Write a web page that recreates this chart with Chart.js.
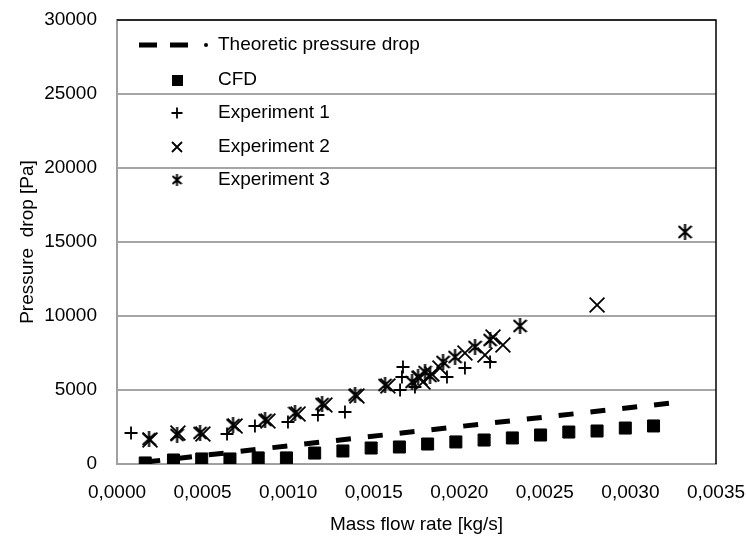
<!DOCTYPE html>
<html>
<head>
<meta charset="utf-8">
<script src="https://cdn.jsdelivr.net/npm/chart.js@4.4.0/dist/chart.umd.min.js"></script>
<style>
  html, body { margin: 0; padding: 0; background: #ffffff; }
  #wrap { width: 746px; height: 537px; }
</style>
</head>
<body>
<div id="wrap"><canvas id="myChart" width="746" height="537"></canvas></div>
<script>
// values
const seriesNames = ["Theoretic pressure drop", "CFD", "Experiment 1", "Experiment 2", "Experiment 3"];

const theoX = [0.000165, 0.00165, 0.0033];
const theoY = [130, 2080, 4200];

const cfdX = [0.000165, 0.00033, 0.000495, 0.00066, 0.000825, 0.00099, 0.001155, 0.00132, 0.001485, 0.00165,
              0.001815, 0.00198, 0.002145, 0.00231, 0.002475, 0.00264, 0.002805, 0.00297, 0.003135];
const cfdY = [70, 270, 340, 340, 410, 410, 740, 880, 1080, 1150, 1350, 1490, 1620, 1760, 1960, 2160, 2230, 2430, 2570];

const exp1X = [0.000082, 0.000643, 0.000806, 0.000999, 0.001174, 0.001332, 0.001654, 0.001665, 0.001671, 0.001741,
               0.001928, 0.002033, 0.00218];
const exp1Y = [2095, 2027, 2568, 2838, 3311, 3514, 5000, 5879, 6554, 5203, 5879, 6487, 6892];

const exp2X = [0.000193, 0.000356, 0.000502, 0.00069, 0.000882, 0.001058, 0.001215, 0.001402, 0.001583, 0.00177,
               0.001788, 0.00184, 0.001887, 0.002033, 0.00215, 0.002197, 0.002255, 0.002805];
const exp2Y = [1622, 2095, 2027, 2568, 2906, 3379, 3987, 4595, 5271, 5811, 5541, 6081, 6487, 7500, 7365, 8581, 8041, 10744];

const exp3X = [0.000187, 0.000351, 0.000485, 0.000678, 0.000865, 0.00104, 0.001198, 0.001391, 0.001566, 0.001724,
               0.001759, 0.0018, 0.001829, 0.001905, 0.001975, 0.002092, 0.00218, 0.002355, 0.003319];
const exp3Y = [1689, 1960, 2095, 2635, 2973, 3446, 4054, 4662, 5338, 5541, 5879, 6216, 5946, 6892, 7230, 7906, 8379, 9325, 15676];

const xTicks = [0, 0.0005, 0.001, 0.0015, 0.002, 0.0025, 0.003, 0.0035];
const yTicks = [0, 5000, 10000, 15000, 20000, 25000, 30000];

function toPoints(xs, ys) {
    return xs.map((x, i) => ({ x: x, y: ys[i] }));
}

// asterisk marker (x with a vertical bar) for experiment 3
function makeAsterisk(w, h, lw) {
    const c = document.createElement('canvas');
    c.width = w; c.height = h;
    const g = c.getContext('2d');
    g.strokeStyle = '#000';
    g.lineWidth = lw;
    g.beginPath();
    g.moveTo(1, 2); g.lineTo(w - 1, h - 2);
    g.moveTo(w - 1, 2); g.lineTo(1, h - 2);
    g.moveTo(w / 2, 0); g.lineTo(w / 2, h);
    g.stroke();
    return c;
}
const starBig = makeAsterisk(15, 16, 2.2);
const starSmall = makeAsterisk(11, 12, 2);

const FONT = "'Liberation Sans', Arial, sans-serif";
Chart.defaults.color = "#000000";
Chart.defaults.font.family = FONT;
Chart.defaults.font.size = 19;
Chart.defaults.font.lineHeight = 1.2;

// legend drawn inside the plot, like the Excel one
const insideLegend = {
    id: 'insideLegend',
    afterDraw(chart) {
        const ctx = chart.ctx;
        const rows = [45, 80, 113, 147, 180];
        const symX = 177, textX = 218;
        ctx.save();
        ctx.fillStyle = '#000';
        ctx.strokeStyle = '#000';
        // dashed line sample
        ctx.lineWidth = 5;
        ctx.beginPath();
        ctx.moveTo(139, rows[0]); ctx.lineTo(157, rows[0]);
        ctx.moveTo(170, rows[0]); ctx.lineTo(188, rows[0]);
        ctx.stroke();
        ctx.beginPath();
        ctx.arc(206, rows[0], 2, 0, Math.PI * 2);
        ctx.fill();
        // square
        ctx.fillRect(symX - 5, rows[1] - 5, 11, 11);
        // plus
        ctx.lineWidth = 1.8;
        ctx.beginPath();
        ctx.moveTo(symX - 5.5, rows[2]); ctx.lineTo(symX + 5.5, rows[2]);
        ctx.moveTo(symX, rows[2] - 5.5); ctx.lineTo(symX, rows[2] + 5.5);
        ctx.stroke();
        // cross
        ctx.beginPath();
        ctx.moveTo(symX - 5, rows[3] - 5); ctx.lineTo(symX + 5, rows[3] + 5);
        ctx.moveTo(symX + 5, rows[3] - 5); ctx.lineTo(symX - 5, rows[3] + 5);
        ctx.stroke();
        // asterisk
        ctx.drawImage(starSmall, symX - starSmall.width / 2, rows[4] - starSmall.height / 2);

        ctx.font = "19px " + FONT;
        ctx.textBaseline = 'middle';
        ctx.textAlign = 'left';
        for (let i = 0; i < seriesNames.length; i++) {
            ctx.fillText(seriesNames[i], textX, rows[i]);
        }
        ctx.restore();
    }
};

// black top and right edge of the plot area
const plotFrame = {
    id: 'plotFrame',
    afterDraw(chart) {
        const a = chart.chartArea;
        const ctx = chart.ctx;
        ctx.save();
        ctx.strokeStyle = '#000';
        ctx.lineWidth = 1.5;
        ctx.beginPath();
        ctx.moveTo(a.left, a.top);
        ctx.lineTo(a.right, a.top);
        ctx.lineTo(a.right, a.bottom);
        ctx.stroke();
        ctx.restore();
    }
};

window.addEventListener('load', function () {
    const ctx = document.getElementById('myChart').getContext('2d');
    new Chart(ctx, {
        type: 'scatter',
        data: {
            datasets: [
                {
                    label: seriesNames[0],
                    data: toPoints(theoX, theoY),
                    showLine: true,
                    borderColor: '#000',
                    borderWidth: 5,
                    borderDash: [15, 17],
                    pointRadius: 0,
                    fill: false
                },
                {
                    label: seriesNames[1],
                    data: toPoints(cfdX, cfdY),
                    pointStyle: 'rect',
                    pointRadius: 8.5,
                    backgroundColor: '#000',
                    borderColor: '#000',
                    borderWidth: 1
                },
                {
                    label: seriesNames[2],
                    data: toPoints(exp1X, exp1Y),
                    pointStyle: 'cross',
                    pointRadius: 6.5,
                    borderColor: '#000',
                    borderWidth: 1.8
                },
                {
                    label: seriesNames[3],
                    data: toPoints(exp2X, exp2Y),
                    pointStyle: 'crossRot',
                    pointRadius: 10.5,
                    borderColor: '#000',
                    borderWidth: 1.8
                },
                {
                    label: seriesNames[4],
                    data: toPoints(exp3X, exp3Y),
                    pointStyle: starBig,
                    pointRadius: 8,
                    borderColor: '#000'
                }
            ]
        },
        options: {
            responsive: false,
            animation: false,
            layout: { padding: { left: 0, right: 30, top: 20, bottom: 0 } },
            plugins: {
                legend: { display: false },
                tooltip: { enabled: false }
            },
            scales: {
                x: {
                    type: 'linear',
                    min: 0,
                    max: 0.0035,
                    afterBuildTicks: (scale) => { scale.ticks = xTicks.map(v => ({ value: v })); },
                    afterFit: (scale) => {
                        scale.height = 73;
                        scale.paddingLeft = 0;
                        scale.paddingRight = 0;
                    },
                    ticks: {
                        padding: 17,
                        maxRotation: 0,
                        callback: (v) => Number(v).toFixed(4).replace('.', ',')
                    },
                    grid: { drawOnChartArea: false, drawTicks: false },
                    border: { display: true, color: '#a0a0a0', width: 2 },
                    title: {
                        display: true,
                        text: 'Mass flow rate [kg/s]',
                        padding: { top: 0, bottom: 1 }
                    }
                },
                y: {
                    type: 'linear',
                    min: 0,
                    max: 30000,
                    afterBuildTicks: (scale) => { scale.ticks = yTicks.map(v => ({ value: v })); },
                    afterFit: (scale) => {
                        scale.width = 117;
                        scale.paddingTop = 0;
                        scale.paddingBottom = 0;
                    },
                    ticks: {
                        padding: 20,
                        callback: (v) => String(v)
                    },
                    grid: { color: '#a6a6a6', lineWidth: 2, drawTicks: false },
                    border: { display: true, color: '#a0a0a0', width: 2 },
                    title: {
                        display: true,
                        text: 'Pressure  drop [Pa]',
                        padding: { top: 16, bottom: 0 }
                    }
                }
            }
        },
        plugins: [insideLegend, plotFrame]
    });
});
</script>
</body>
</html>
